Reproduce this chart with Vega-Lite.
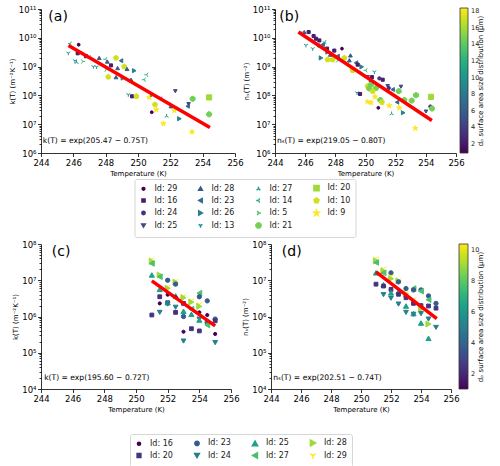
{
  "$schema": "https://vega.github.io/schema/vega-lite/v6.json",
  "padding": {"left": 8, "top": 5, "right": 2, "bottom": 2},
  "config": {
    "font": "DejaVu Sans",
    "view": {"stroke": null},
    "axis": {
      "grid": false, "domainColor": "#000", "tickColor": "#000", "labelColor": "#000", "titleColor": "#000",
      "labelFontSize": 8.5, "titleFontSize": 7, "titleFontWeight": "normal", "tickSize": 3.5, "labelOverlap": false,
      "labelPadding": 1.5, "titlePadding": 3, "domainWidth": 0.8, "tickWidth": 0.8
    },
    "title": {"anchor": "start", "frame": "bounds", "offset": -19, "fontSize": 14, "fontWeight": "normal", "color": "#000"},
    "legend": {"labelColor": "#222", "titleColor": "#000", "titleFontWeight": "normal"}
  },
  "datasets": {
    "a": [
      {"Id": "14", "T": 245.81, "v": 6.3e9}, {"Id": "29", "T": 246.33, "v": 5.75e9}, {"Id": "13", "T": 245.69, "v": 2.95e9},
      {"Id": "16", "T": 246.27, "v": 2.9e9}, {"Id": "13", "T": 246.1, "v": 1.6e9}, {"Id": "5", "T": 246.58, "v": 1.5e9},
      {"Id": "27", "T": 246.2, "v": 1.4e9}, {"Id": "16", "T": 246.78, "v": 2.3e9}, {"Id": "14", "T": 246.99, "v": 2.1e9},
      {"Id": "28", "T": 247.6, "v": 2.0e9}, {"Id": "13", "T": 247.24, "v": 1.0e9}, {"Id": "13", "T": 247.44, "v": 9.8e8},
      {"Id": "14", "T": 248.0, "v": 1.8e9}, {"Id": "28", "T": 248.1, "v": 1.5e9}, {"Id": "10", "T": 248.64, "v": 2.0e9},
      {"Id": "23", "T": 248.95, "v": 1.6e9}, {"Id": "16", "T": 248.33, "v": 1.1e9}, {"Id": "5", "T": 248.02, "v": 7.8e8},
      {"Id": "28", "T": 248.74, "v": 8.9e8}, {"Id": "10", "T": 249.15, "v": 1.0e9}, {"Id": "28", "T": 249.32, "v": 8.3e8},
      {"Id": "26", "T": 249.77, "v": 7.2e8}, {"Id": "10", "T": 248.16, "v": 4.4e8}, {"Id": "28", "T": 248.64, "v": 4.3e8},
      {"Id": "26", "T": 249.07, "v": 4.0e8}, {"Id": "28", "T": 249.57, "v": 3.5e8}, {"Id": "14", "T": 250.39, "v": 3.5e8},
      {"Id": "14", "T": 250.54, "v": 5.2e8}, {"Id": "13", "T": 249.4, "v": 1.07e8}, {"Id": "16", "T": 249.63, "v": 9.3e7},
      {"Id": "10", "T": 249.9, "v": 9.3e7}, {"Id": "9", "T": 250.7, "v": 8.5e7}, {"Id": "26", "T": 250.9, "v": 1.07e8},
      {"Id": "25", "T": 252.31, "v": 1.4e8}, {"Id": "14", "T": 251.42, "v": 7.8e7}, {"Id": "10", "T": 251.05, "v": 4.8e7},
      {"Id": "9", "T": 251.13, "v": 3.2e7}, {"Id": "29", "T": 250.85, "v": 2.6e7}, {"Id": "28", "T": 252.04, "v": 4.2e7},
      {"Id": "9", "T": 252.25, "v": 3.0e7}, {"Id": "27", "T": 251.77, "v": 1.9e7}, {"Id": "26", "T": 252.56, "v": 1.55e7},
      {"Id": "9", "T": 251.57, "v": 1.05e7}, {"Id": "23", "T": 253.07, "v": 4.2e7}, {"Id": "25", "T": 253.13, "v": 5.0e7},
      {"Id": "21", "T": 253.38, "v": 7.6e7}, {"Id": "20", "T": 254.4, "v": 8.5e7}, {"Id": "21", "T": 254.4, "v": 2.2e7},
      {"Id": "9", "T": 253.34, "v": 5.4e6}
    ],
    "b": [
      {"Id": "14", "T": 245.72, "v": 1.45e10}, {"Id": "28", "T": 245.94, "v": 1.58e10}, {"Id": "16", "T": 246.23, "v": 1.58e10},
      {"Id": "16", "T": 246.56, "v": 1.15e10}, {"Id": "13", "T": 246.05, "v": 5.5e9}, {"Id": "13", "T": 246.5, "v": 4.2e9},
      {"Id": "16", "T": 246.72, "v": 9.3e9}, {"Id": "16", "T": 246.94, "v": 8.1e9}, {"Id": "14", "T": 247.31, "v": 7.1e9},
      {"Id": "28", "T": 246.94, "v": 5.5e9}, {"Id": "23", "T": 247.16, "v": 5.8e9}, {"Id": "16", "T": 247.45, "v": 4.2e9},
      {"Id": "29", "T": 248.44, "v": 4.2e9}, {"Id": "26", "T": 247.05, "v": 2.0e9}, {"Id": "26", "T": 247.49, "v": 3.2e9},
      {"Id": "10", "T": 247.49, "v": 1.74e9}, {"Id": "10", "T": 247.82, "v": 1.74e9}, {"Id": "28", "T": 247.67, "v": 2.6e9},
      {"Id": "16", "T": 247.93, "v": 3.6e9}, {"Id": "23", "T": 248.15, "v": 2.3e9}, {"Id": "5", "T": 248.15, "v": 1.66e9},
      {"Id": "10", "T": 248.6, "v": 2.0e9}, {"Id": "28", "T": 248.93, "v": 1.66e9}, {"Id": "28", "T": 249.0, "v": 2.45e9},
      {"Id": "14", "T": 248.82, "v": 1.26e9}, {"Id": "23", "T": 249.37, "v": 1.35e9}, {"Id": "26", "T": 249.75, "v": 9.8e8},
      {"Id": "10", "T": 249.15, "v": 7.4e8}, {"Id": "16", "T": 249.48, "v": 1.17e9}, {"Id": "14", "T": 250.03, "v": 7.4e8},
      {"Id": "13", "T": 250.59, "v": 6.6e8}, {"Id": "25", "T": 250.14, "v": 4.3e8}, {"Id": "16", "T": 250.43, "v": 4.3e8},
      {"Id": "28", "T": 250.36, "v": 3.4e8}, {"Id": "24", "T": 250.92, "v": 3.9e8}, {"Id": "16", "T": 251.14, "v": 3.5e8},
      {"Id": "10", "T": 250.14, "v": 2.1e8}, {"Id": "21", "T": 250.36, "v": 2.4e8}, {"Id": "21", "T": 250.25, "v": 1.74e8},
      {"Id": "21", "T": 250.7, "v": 1.8e8}, {"Id": "10", "T": 250.48, "v": 1.4e8}, {"Id": "25", "T": 251.47, "v": 2.1e8},
      {"Id": "24", "T": 251.54, "v": 1.8e8}, {"Id": "23", "T": 251.8, "v": 1.6e8}, {"Id": "25", "T": 252.35, "v": 2.0e8},
      {"Id": "21", "T": 252.2, "v": 1.4e8}, {"Id": "13", "T": 249.44, "v": 1.23e8}, {"Id": "16", "T": 249.64, "v": 1.12e8},
      {"Id": "9", "T": 250.63, "v": 8.9e7}, {"Id": "9", "T": 250.14, "v": 6.0e7}, {"Id": "9", "T": 250.36, "v": 5.6e7},
      {"Id": "21", "T": 250.98, "v": 6.9e7}, {"Id": "10", "T": 251.09, "v": 5.8e7}, {"Id": "9", "T": 251.58, "v": 4.4e7},
      {"Id": "29", "T": 250.85, "v": 3.7e7}, {"Id": "9", "T": 252.24, "v": 3.7e7}, {"Id": "23", "T": 252.09, "v": 5.8e7},
      {"Id": "21", "T": 252.57, "v": 6.9e7}, {"Id": "21", "T": 253.06, "v": 6.6e7}, {"Id": "21", "T": 253.35, "v": 1.02e8},
      {"Id": "27", "T": 251.73, "v": 2.3e7}, {"Id": "26", "T": 252.5, "v": 2.5e7}, {"Id": "25", "T": 254.01, "v": 2.75e7},
      {"Id": "24", "T": 254.3, "v": 4.1e7}, {"Id": "21", "T": 254.41, "v": 3.5e7}, {"Id": "20", "T": 254.34, "v": 8.9e7},
      {"Id": "9", "T": 253.3, "v": 7.2e6}
    ],
    "c": [
      {"Id": "29", "T": 251, "v": 3.8e7}, {"Id": "28", "T": 251, "v": 3.3e7}, {"Id": "27", "T": 251, "v": 2.9e7},
      {"Id": "25", "T": 251, "v": 1.4e7}, {"Id": "20", "T": 251, "v": 1.1e6},
      {"Id": "28", "T": 251.5, "v": 1.4e7}, {"Id": "27", "T": 251.5, "v": 1.25e7}, {"Id": "25", "T": 251.5, "v": 5.6e6},
      {"Id": "20", "T": 251.5, "v": 3.5e6}, {"Id": "16", "T": 251.5, "v": 2.3e6}, {"Id": "24", "T": 251.5, "v": 1.3e6},
      {"Id": "23", "T": 252, "v": 1.0e7}, {"Id": "29", "T": 252, "v": 6.6e6}, {"Id": "28", "T": 252, "v": 6.0e6},
      {"Id": "16", "T": 252, "v": 4.0e6}, {"Id": "20", "T": 252, "v": 2.4e6}, {"Id": "25", "T": 252, "v": 2.4e6},
      {"Id": "24", "T": 252, "v": 2.2e6},
      {"Id": "29", "T": 252.5, "v": 9.6e6}, {"Id": "28", "T": 252.5, "v": 8.8e6}, {"Id": "23", "T": 252.5, "v": 7.8e6},
      {"Id": "25", "T": 252.5, "v": 3.7e6}, {"Id": "16", "T": 252.5, "v": 3.4e6}, {"Id": "24", "T": 252.5, "v": 1.8e6},
      {"Id": "20", "T": 252.5, "v": 1.3e6},
      {"Id": "29", "T": 253, "v": 3.7e6}, {"Id": "28", "T": 253, "v": 3.3e6}, {"Id": "20", "T": 253, "v": 2.3e6},
      {"Id": "25", "T": 253, "v": 1.4e6}, {"Id": "23", "T": 253, "v": 1.0e6}, {"Id": "16", "T": 253, "v": 3.8e5},
      {"Id": "24", "T": 253, "v": 2.1e5},
      {"Id": "29", "T": 253.5, "v": 2.8e6}, {"Id": "28", "T": 253.5, "v": 2.5e6}, {"Id": "27", "T": 253.5, "v": 1.6e6},
      {"Id": "25", "T": 253.5, "v": 1.15e6}, {"Id": "20", "T": 253.5, "v": 4.6e5},
      {"Id": "27", "T": 254, "v": 4.4e6}, {"Id": "23", "T": 254, "v": 3.5e6}, {"Id": "29", "T": 254, "v": 2.2e6},
      {"Id": "28", "T": 254, "v": 1.9e6}, {"Id": "16", "T": 254, "v": 1.3e6}, {"Id": "24", "T": 254, "v": 8.5e5},
      {"Id": "25", "T": 254, "v": 8.0e5}, {"Id": "20", "T": 254, "v": 4.0e5},
      {"Id": "23", "T": 254.5, "v": 2.7e6}, {"Id": "16", "T": 254.5, "v": 1.1e6}, {"Id": "20", "T": 254.5, "v": 7.0e5},
      {"Id": "24", "T": 254.5, "v": 6.2e5}, {"Id": "27", "T": 254.5, "v": 5.8e5},
      {"Id": "23", "T": 255, "v": 8.5e5}, {"Id": "20", "T": 255, "v": 7.6e5}, {"Id": "16", "T": 255, "v": 3.3e5},
      {"Id": "24", "T": 255, "v": 1.9e5}
    ],
    "d": [
      {"Id": "29", "T": 251, "v": 4.0e7}, {"Id": "28", "T": 251, "v": 3.4e7}, {"Id": "27", "T": 251, "v": 3.1e7},
      {"Id": "25", "T": 251, "v": 1.6e7}, {"Id": "20", "T": 251, "v": 7.8e6},
      {"Id": "29", "T": 251.5, "v": 2.1e7}, {"Id": "28", "T": 251.5, "v": 1.8e7}, {"Id": "27", "T": 251.5, "v": 1.6e7},
      {"Id": "25", "T": 251.5, "v": 7.5e6}, {"Id": "20", "T": 251.5, "v": 6.9e6}, {"Id": "24", "T": 251.5, "v": 4.0e6},
      {"Id": "23", "T": 252, "v": 1.6e7}, {"Id": "29", "T": 252, "v": 1.3e7}, {"Id": "28", "T": 252, "v": 1.1e7},
      {"Id": "20", "T": 252, "v": 5.6e6}, {"Id": "25", "T": 252, "v": 4.5e6}, {"Id": "24", "T": 252, "v": 3.2e6},
      {"Id": "29", "T": 252.5, "v": 1.0e7}, {"Id": "28", "T": 252.5, "v": 9.6e6}, {"Id": "23", "T": 252.5, "v": 9.0e6},
      {"Id": "25", "T": 252.5, "v": 4.8e6}, {"Id": "20", "T": 252.5, "v": 4.1e6}, {"Id": "24", "T": 252.5, "v": 2.2e6},
      {"Id": "23", "T": 253, "v": 5.9e6}, {"Id": "29", "T": 253, "v": 4.5e6}, {"Id": "28", "T": 253, "v": 4.2e6},
      {"Id": "20", "T": 253, "v": 3.3e6}, {"Id": "25", "T": 253, "v": 1.95e6}, {"Id": "24", "T": 253, "v": 1.3e6},
      {"Id": "27", "T": 253.5, "v": 5.9e6}, {"Id": "23", "T": 253.5, "v": 5.4e6}, {"Id": "29", "T": 253.5, "v": 3.0e6},
      {"Id": "20", "T": 253.5, "v": 2.3e6}, {"Id": "25", "T": 253.5, "v": 1.2e6}, {"Id": "24", "T": 253.5, "v": 1.15e6},
      {"Id": "23", "T": 254, "v": 5.4e6}, {"Id": "27", "T": 254, "v": 5.0e6}, {"Id": "20", "T": 254, "v": 2.0e6},
      {"Id": "28", "T": 254, "v": 1.6e6}, {"Id": "24", "T": 254, "v": 1.2e6}, {"Id": "25", "T": 254, "v": 6.6e5},
      {"Id": "23", "T": 254.5, "v": 3.7e6}, {"Id": "27", "T": 254.5, "v": 2.9e6}, {"Id": "20", "T": 254.5, "v": 1.95e6},
      {"Id": "24", "T": 254.5, "v": 8.5e5}, {"Id": "28", "T": 254.5, "v": 6.2e5}, {"Id": "25", "T": 254.5, "v": 2.5e5},
      {"Id": "23", "T": 255, "v": 2.3e6}, {"Id": "20", "T": 255, "v": 1.7e6}, {"Id": "24", "T": 255, "v": 5.0e5}
    ],
    "fa": [{"T": 245.7, "v": 5.4e9}, {"T": 254.45, "v": 7.7e6}],
    "fb": [{"T": 245.55, "v": 1.6e10}, {"T": 254.4, "v": 1.35e7}],
    "fc": [{"T": 251, "v": 9.6e6}, {"T": 255, "v": 5.5e5}],
    "fd": [{"T": 251, "v": 1.7e7}, {"T": 255.05, "v": 8.7e5}],
    "cb1": [{"dp": 0.9}, {"dp": 18.4}],
    "cb2": [{"dp": 1.0}, {"dp": 10.4}]
  },
  "spacing": 2,
  "resolve": {"scale": {"color": "independent", "shape": "independent", "size": "independent", "stroke": "independent", "fill": "independent"}},
  "vconcat": [
    {
      "hconcat": [
        {
          "width": 194, "height": 144,
          "title": {"text": "(a)", "dx": 40},
          "layer": [
            {
              "data": {"name": "a"},
              "mark": {"type": "point", "filled": true, "strokeWidth": 1, "opacity": 1},
              "encoding": {
                "x": {"field": "T", "type": "quantitative", "scale": {"domain": [244, 256], "nice": false, "zero": false}, "axis": {"title": "Temperature (K)", "values": [244, 246, 248, 250, 252, 254, 256], "format": "d", "tickCount": 20, "labelOverlap": false, "labelFlush": false}},
                "y": {"field": "v", "type": "quantitative", "scale": {"type": "log", "domain": [1e6, 1e11], "nice": false},
                  "axis": {"title": "k(T) (m⁻²K⁻¹)", "tickCount": 100,
                    "values": [1e6, 2e6, 3e6, 4e6, 5e6, 6e6, 7e6, 8e6, 9e6, 1e7, 2e7, 3e7, 4e7, 5e7, 6e7, 7e7, 8e7, 9e7, 1e8, 2e8, 3e8, 4e8, 5e8, 6e8, 7e8, 8e8, 9e8, 1e9, 2e9, 3e9, 4e9, 5e9, 6e9, 7e9, 8e9, 9e9, 1e10, 2e10, 3e10, 4e10, 5e10, 6e10, 7e10, 8e10, 9e10, 1e11],
                    "labelExpr": "abs(log(datum.value)/LN10 - round(log(datum.value)/LN10)) < 0.001 ? '10' + ['⁰','¹','²','³','⁴','⁵','⁶','⁷','⁸','⁹','¹⁰','¹¹'][round(log(datum.value)/LN10)] : ''",
                    "tickSize": {"condition": {"test": "abs(log(datum.value)/LN10 - round(log(datum.value)/LN10)) < 0.001", "value": 3.5}, "value": 2}}},
                "color": {"field": "Id", "type": "nominal",
                  "scale": {"domain": ["29", "16", "24", "25", "28", "23", "26", "13", "27", "14", "5", "21", "20", "10", "9"],
                    "range": ["#440154", "#481c6e", "#46327e", "#3f4889", "#37598c", "#2e6e8e", "#27808e", "#21918c", "#1fa088", "#2db27d", "#48c16e", "#73d056", "#a0da39", "#d0e11c", "#fde725"]},
                  "legend": {"title": null, "orient": "none", "legendX": 93.5, "legendY": 170, "columns": 4, "columnPadding": 18, "rowPadding": 0.5,
                    "labelExpr": "'Id: ' + datum.label", "labelFontSize": 8, "labelOffset": 7, "strokeColor": "#d6d6d6", "padding": 5, "cornerRadius": 2}},
                "stroke": {"field": "Id", "type": "nominal",
                  "scale": {"domain": ["29", "16", "24", "25", "28", "23", "26", "13", "27", "14", "5", "21", "20", "10", "9"],
                    "range": ["#440154", "#481c6e", "#46327e", "#3f4889", "#37598c", "#2e6e8e", "#27808e", "#21918c", "#1fa088", "#2db27d", "#48c16e", "#73d056", "#a0da39", "#d0e11c", "#fde725"]}},
                "shape": {"field": "Id", "type": "nominal",
                  "scale": {"domain": ["29", "16", "24", "25", "28", "23", "26", "13", "27", "14", "5", "21", "20", "10", "9"],
                    "range": ["circle", "square", "circle", "triangle-down", "triangle-up", "triangle-left", "triangle-right", "M0,0L0,1M0,0L-0.87,-0.5M0,0L0.87,-0.5", "M0,0L0,-1M0,0L-0.87,0.5M0,0L0.87,0.5", "M0,0L-1,0M0,0L0.5,-0.87M0,0L0.5,0.87", "M0,0L1,0M0,0L-0.5,-0.87M0,0L-0.5,0.87", "M-0.41,-1L0.41,-1L1,-0.41L1,0.41L0.41,1L-0.41,1L-1,0.41L-1,-0.41Z", "square", "M0,-1L0.95,-0.31L0.59,0.81L-0.59,0.81L-0.95,-0.31Z", "M0,-1L0.22,-0.31L0.95,-0.31L0.36,0.12L0.59,0.81L0,0.38L-0.59,0.81L-0.36,0.12L-0.95,-0.31L-0.22,-0.31Z"]}},
                "size": {"field": "Id", "type": "nominal",
                  "scale": {"domain": ["29", "16", "24", "25", "28", "23", "26", "13", "27", "14", "5", "21", "20", "10", "9"],
                    "range": [8, 30, 34, 38, 38, 38, 38, 44, 44, 44, 44, 38, 30, 40, 54]}}
              }
            },
            {
              "data": {"name": "fa"},
              "mark": {"type": "line", "color": "#ff0000", "strokeWidth": 3.5},
              "encoding": {"x": {"field": "T", "type": "quantitative"}, "y": {"field": "v", "type": "quantitative"}}
            },
            {
              "data": {"values": [{"t": "k(T) = exp(205.47 − 0.75T)"}]},
              "mark": {"type": "text", "align": "left", "baseline": "middle", "fontSize": 7.6, "color": "#000"},
              "encoding": {"x": {"datum": 244.11}, "y": {"datum": 2.6e6}, "text": {"field": "t"}}
            }
          ]
        },
        {
          "width": 181, "height": 144,
          "title": {"text": "(b)", "dx": 37},
          "layer": [
            {
              "data": {"name": "b"},
              "mark": {"type": "point", "filled": true, "strokeWidth": 1, "opacity": 1},
              "encoding": {
                "x": {"field": "T", "type": "quantitative", "scale": {"domain": [244, 256], "nice": false, "zero": false}, "axis": {"title": "Temperature (K)", "values": [244, 246, 248, 250, 252, 254, 256], "format": "d", "tickCount": 20, "labelOverlap": false, "labelFlush": false}},
                "y": {"field": "v", "type": "quantitative", "scale": {"type": "log", "domain": [1e6, 1e11], "nice": false},
                  "axis": {"title": "nₛ(T) (m⁻²)", "tickCount": 100,
                    "values": [1e6, 2e6, 3e6, 4e6, 5e6, 6e6, 7e6, 8e6, 9e6, 1e7, 2e7, 3e7, 4e7, 5e7, 6e7, 7e7, 8e7, 9e7, 1e8, 2e8, 3e8, 4e8, 5e8, 6e8, 7e8, 8e8, 9e8, 1e9, 2e9, 3e9, 4e9, 5e9, 6e9, 7e9, 8e9, 9e9, 1e10, 2e10, 3e10, 4e10, 5e10, 6e10, 7e10, 8e10, 9e10, 1e11],
                    "labelExpr": "abs(log(datum.value)/LN10 - round(log(datum.value)/LN10)) < 0.001 ? '10' + ['⁰','¹','²','³','⁴','⁵','⁶','⁷','⁸','⁹','¹⁰','¹¹'][round(log(datum.value)/LN10)] : ''",
                    "tickSize": {"condition": {"test": "abs(log(datum.value)/LN10 - round(log(datum.value)/LN10)) < 0.001", "value": 3.5}, "value": 2}}},
                "color": {"field": "Id", "type": "nominal",
                  "scale": {"domain": ["29", "16", "24", "25", "28", "23", "26", "13", "27", "14", "5", "21", "20", "10", "9"],
                    "range": ["#440154", "#481c6e", "#46327e", "#3f4889", "#37598c", "#2e6e8e", "#27808e", "#21918c", "#1fa088", "#2db27d", "#48c16e", "#73d056", "#a0da39", "#d0e11c", "#fde725"]}},
                "stroke": {"field": "Id", "type": "nominal",
                  "scale": {"domain": ["29", "16", "24", "25", "28", "23", "26", "13", "27", "14", "5", "21", "20", "10", "9"],
                    "range": ["#440154", "#481c6e", "#46327e", "#3f4889", "#37598c", "#2e6e8e", "#27808e", "#21918c", "#1fa088", "#2db27d", "#48c16e", "#73d056", "#a0da39", "#d0e11c", "#fde725"]}},
                "shape": {"field": "Id", "type": "nominal",
                  "scale": {"domain": ["29", "16", "24", "25", "28", "23", "26", "13", "27", "14", "5", "21", "20", "10", "9"],
                    "range": ["circle", "square", "circle", "triangle-down", "triangle-up", "triangle-left", "triangle-right", "M0,0L0,1M0,0L-0.87,-0.5M0,0L0.87,-0.5", "M0,0L0,-1M0,0L-0.87,0.5M0,0L0.87,0.5", "M0,0L-1,0M0,0L0.5,-0.87M0,0L0.5,0.87", "M0,0L1,0M0,0L-0.5,-0.87M0,0L-0.5,0.87", "M-0.41,-1L0.41,-1L1,-0.41L1,0.41L0.41,1L-0.41,1L-1,0.41L-1,-0.41Z", "square", "M0,-1L0.95,-0.31L0.59,0.81L-0.59,0.81L-0.95,-0.31Z", "M0,-1L0.22,-0.31L0.95,-0.31L0.36,0.12L0.59,0.81L0,0.38L-0.59,0.81L-0.36,0.12L-0.95,-0.31L-0.22,-0.31Z"]}},
                "size": {"field": "Id", "type": "nominal",
                  "scale": {"domain": ["29", "16", "24", "25", "28", "23", "26", "13", "27", "14", "5", "21", "20", "10", "9"],
                    "range": [8, 30, 34, 38, 38, 38, 38, 44, 44, 44, 44, 38, 30, 40, 54]}}
              }
            },
            {
              "data": {"name": "fb"},
              "mark": {"type": "line", "color": "#ff0000", "strokeWidth": 3.5},
              "encoding": {"x": {"field": "T", "type": "quantitative"}, "y": {"field": "v", "type": "quantitative"}}
            },
            {
              "data": {"values": [{"t": "nₛ(T) = exp(219.05 − 0.80T)"}]},
              "mark": {"type": "text", "align": "left", "baseline": "middle", "fontSize": 7.6, "color": "#000"},
              "encoding": {"x": {"datum": 244.13}, "y": {"datum": 2.6e6}, "text": {"field": "t"}}
            },
            {
              "data": {"name": "cb1"},
              "mark": {"type": "point", "opacity": 0},
              "encoding": {
                "fill": {"field": "dp", "type": "quantitative", "scale": {"scheme": "viridis", "domain": [0.9, 18.4]},
                  "legend": {"orient": "none", "legendX": 419, "legendY": -1, "direction": "vertical", "gradientLength": 145, "gradientThickness": 8,
                    "values": [2, 4, 6, 8, 10, 12, 14, 16, 18], "title": "dₚ surface area size distribution (μm)", "titleOrient": "right",
                    "titleFontSize": 7, "labelFontSize": 6.5, "labelOffset": 3, "gradientStrokeColor": "#333", "gradientStrokeWidth": 0.8,
                    "encode": {"title": {"update": {"angle": {"value": 270}}}}}}
              }
            }
          ]
        }
      ],
      "spacing": 40,
      "bounds": "flush"
    },
    {
      "hconcat": [
        {
          "width": 190, "height": 145,
          "title": {"text": "(c)", "dx": 40},
          "layer": [
            {
              "data": {"name": "c"},
              "mark": {"type": "point", "filled": true, "strokeWidth": 1, "opacity": 1},
              "encoding": {
                "x": {"field": "T", "type": "quantitative", "scale": {"domain": [244, 256], "nice": false, "zero": false}, "axis": {"title": "Temperature (K)", "values": [244, 246, 248, 250, 252, 254, 256], "format": "d", "tickCount": 20, "labelOverlap": false, "labelFlush": false}},
                "y": {"field": "v", "type": "quantitative", "scale": {"type": "log", "domain": [1e4, 1e8], "nice": false},
                  "axis": {"title": "k(T) (m⁻²K⁻¹)", "tickCount": 100,
                    "values": [1e4, 2e4, 3e4, 4e4, 5e4, 6e4, 7e4, 8e4, 9e4, 1e5, 2e5, 3e5, 4e5, 5e5, 6e5, 7e5, 8e5, 9e5, 1e6, 2e6, 3e6, 4e6, 5e6, 6e6, 7e6, 8e6, 9e6, 1e7, 2e7, 3e7, 4e7, 5e7, 6e7, 7e7, 8e7, 9e7, 1e8],
                    "labelExpr": "abs(log(datum.value)/LN10 - round(log(datum.value)/LN10)) < 0.001 ? '10' + ['⁰','¹','²','³','⁴','⁵','⁶','⁷','⁸','⁹','¹⁰','¹¹'][round(log(datum.value)/LN10)] : ''",
                    "tickSize": {"condition": {"test": "abs(log(datum.value)/LN10 - round(log(datum.value)/LN10)) < 0.001", "value": 3.5}, "value": 2}}},
                "color": {"field": "Id", "type": "nominal",
                  "scale": {"domain": ["16", "20", "23", "24", "25", "27", "28", "29"],
                    "range": ["#440154", "#46337e", "#365c8d", "#277f8e", "#1fa187", "#4ac16d", "#a0da39", "#fde725"]},
                  "legend": {"title": null, "orient": "none", "legendX": 89, "legendY": 190, "columns": 4, "columnPadding": 18, "rowPadding": 0.5,
                    "labelExpr": "'Id: ' + datum.label", "labelFontSize": 8, "labelOffset": 7, "strokeColor": "#d6d6d6", "padding": 5, "cornerRadius": 2}},
                "stroke": {"field": "Id", "type": "nominal",
                  "scale": {"domain": ["16", "20", "23", "24", "25", "27", "28", "29"],
                    "range": ["#440154", "#46337e", "#365c8d", "#277f8e", "#1fa187", "#4ac16d", "#a0da39", "#fde725"]}},
                "shape": {"field": "Id", "type": "nominal",
                  "scale": {"domain": ["16", "20", "23", "24", "25", "27", "28", "29"],
                    "range": ["circle", "square", "circle", "triangle-down", "triangle-up", "triangle-left", "triangle-right", "M0,0L0,1M0,0L-0.87,-0.5M0,0L0.87,-0.5"]}},
                "size": {"field": "Id", "type": "nominal",
                  "scale": {"domain": ["16", "20", "23", "24", "25", "27", "28", "29"],
                    "range": [10, 40, 44, 48, 48, 48, 48, 50]}}
              }
            },
            {
              "data": {"name": "fc"},
              "mark": {"type": "line", "color": "#ff0000", "strokeWidth": 3.5},
              "encoding": {"x": {"field": "T", "type": "quantitative"}, "y": {"field": "v", "type": "quantitative"}}
            },
            {
              "data": {"values": [{"t": "k(T) = exp(195.60 − 0.72T)"}]},
              "mark": {"type": "text", "align": "left", "baseline": "middle", "fontSize": 7.6, "color": "#000"},
              "encoding": {"x": {"datum": 244.2}, "y": {"datum": 1.95e4}, "text": {"field": "t"}}
            }
          ]
        },
        {
          "width": 180, "height": 145,
          "title": {"text": "(d)", "dx": 40},
          "layer": [
            {
              "data": {"name": "d"},
              "mark": {"type": "point", "filled": true, "strokeWidth": 1, "opacity": 1},
              "encoding": {
                "x": {"field": "T", "type": "quantitative", "scale": {"domain": [244, 256], "nice": false, "zero": false}, "axis": {"title": "Temperature (K)", "values": [244, 246, 248, 250, 252, 254, 256], "format": "d", "tickCount": 20, "labelOverlap": false, "labelFlush": false}},
                "y": {"field": "v", "type": "quantitative", "scale": {"type": "log", "domain": [1e4, 1e8], "nice": false},
                  "axis": {"title": "nₛ(T) (m⁻²)", "tickCount": 100,
                    "values": [1e4, 2e4, 3e4, 4e4, 5e4, 6e4, 7e4, 8e4, 9e4, 1e5, 2e5, 3e5, 4e5, 5e5, 6e5, 7e5, 8e5, 9e5, 1e6, 2e6, 3e6, 4e6, 5e6, 6e6, 7e6, 8e6, 9e6, 1e7, 2e7, 3e7, 4e7, 5e7, 6e7, 7e7, 8e7, 9e7, 1e8],
                    "labelExpr": "abs(log(datum.value)/LN10 - round(log(datum.value)/LN10)) < 0.001 ? '10' + ['⁰','¹','²','³','⁴','⁵','⁶','⁷','⁸','⁹','¹⁰','¹¹'][round(log(datum.value)/LN10)] : ''",
                    "tickSize": {"condition": {"test": "abs(log(datum.value)/LN10 - round(log(datum.value)/LN10)) < 0.001", "value": 3.5}, "value": 2}}},
                "color": {"field": "Id", "type": "nominal",
                  "scale": {"domain": ["16", "20", "23", "24", "25", "27", "28", "29"],
                    "range": ["#440154", "#46337e", "#365c8d", "#277f8e", "#1fa187", "#4ac16d", "#a0da39", "#fde725"]}},
                "stroke": {"field": "Id", "type": "nominal",
                  "scale": {"domain": ["16", "20", "23", "24", "25", "27", "28", "29"],
                    "range": ["#440154", "#46337e", "#365c8d", "#277f8e", "#1fa187", "#4ac16d", "#a0da39", "#fde725"]}},
                "shape": {"field": "Id", "type": "nominal",
                  "scale": {"domain": ["16", "20", "23", "24", "25", "27", "28", "29"],
                    "range": ["circle", "square", "circle", "triangle-down", "triangle-up", "triangle-left", "triangle-right", "M0,0L0,1M0,0L-0.87,-0.5M0,0L0.87,-0.5"]}},
                "size": {"field": "Id", "type": "nominal",
                  "scale": {"domain": ["16", "20", "23", "24", "25", "27", "28", "29"],
                    "range": [10, 40, 44, 48, 48, 48, 48, 50]}}
              }
            },
            {
              "data": {"name": "fd"},
              "mark": {"type": "line", "color": "#ff0000", "strokeWidth": 3.5},
              "encoding": {"x": {"field": "T", "type": "quantitative"}, "y": {"field": "v", "type": "quantitative"}}
            },
            {
              "data": {"values": [{"t": "nₛ(T) = exp(202.51 − 0.74T)"}]},
              "mark": {"type": "text", "align": "left", "baseline": "middle", "fontSize": 7.6, "color": "#000"},
              "encoding": {"x": {"datum": 244.15}, "y": {"datum": 1.95e4}, "text": {"field": "t"}}
            },
            {
              "data": {"name": "cb2"},
              "mark": {"type": "point", "opacity": 0},
              "encoding": {
                "fill": {"field": "dp", "type": "quantitative", "scale": {"scheme": "viridis", "domain": [1.0, 10.4]},
                  "legend": {"orient": "none", "legendX": 418, "legendY": 0, "direction": "vertical", "gradientLength": 145, "gradientThickness": 9,
                    "values": [2, 4, 6, 8, 10], "title": "dₚ surface area size distribution (μm)", "titleOrient": "right",
                    "titleFontSize": 7, "labelFontSize": 6.5, "labelOffset": 3, "gradientStrokeColor": "#333", "gradientStrokeWidth": 0.8,
                    "encode": {"title": {"update": {"angle": {"value": 270}}}}}}
              }
            }
          ]
        }
      ],
      "spacing": 40,
      "bounds": "flush"
    }
  ]
}
